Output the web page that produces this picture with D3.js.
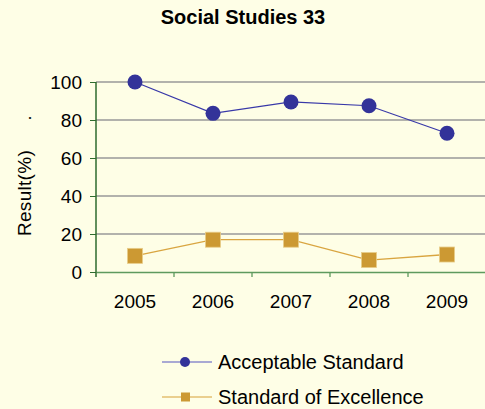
<!DOCTYPE html>
<html><head><meta charset="utf-8">
<script src="https://cdn.jsdelivr.net/npm/d3@7"></script>
<style>
html,body{margin:0;padding:0;background:#FEFEE6;}
svg{display:block;font-family:Arial,"Liberation Sans",sans-serif;}
</style></head><body>
<svg id="c" width="485" height="409"></svg>
<script>
const title = "Social Studies 33";
const years = ["2005","2006","2007","2008","2009"];
const acceptable = [100, 83.5, 89.5, 87.5, 73];
const excellence = [8.5, 17, 17, 6.3, 9.2];
const yTicks = [0,20,40,60,80,100];
const seriesNames = ["Acceptable Standard","Standard of Excellence"];

const svg = d3.select("#c");
svg.append("rect").attr("width",485).attr("height",409).attr("fill","#FEFEE6");

const x = d3.scaleBand().domain(years).range([96,486]);
const y = d3.scaleLinear().domain([0,100]).range([272,82]);

// gridlines
svg.append("g").selectAll("line").data(yTicks.filter(d=>d>0)).join("line")
  .attr("x1",96).attr("x2",486).attr("y1",d=>y(d)).attr("y2",d=>y(d))
  .attr("stroke","#999999").attr("stroke-width",1.3);

// x axis
const xa = svg.append("g").attr("transform","translate(0,272)")
  .call(d3.axisBottom(x).tickSize(0).tickPadding(23));
xa.select(".domain").attr("stroke","#5E9A5E").attr("stroke-width",1.3);
xa.selectAll("text").attr("font-size",19).attr("fill","#000").attr("font-family","Arial,'Liberation Sans',sans-serif");
// x ticks at band boundaries
svg.append("g").selectAll("line").data(years.slice(1).concat(["end"])).join("line")
  .attr("x1",(d,i)=>x(years[0]) + (i+1)*x.bandwidth()).attr("x2",(d,i)=>x(years[0]) + (i+1)*x.bandwidth())
  .attr("y1",272).attr("y2",277).attr("stroke","#5E9A5E").attr("stroke-width",1.3);

// y axis
const ya = svg.append("g").attr("transform","translate(96,0)")
  .call(d3.axisLeft(y).tickValues(yTicks).tickSize(6).tickPadding(8).tickSizeOuter(0));
ya.select(".domain").attr("stroke","#2E6B2E").attr("stroke-width",1.5).attr("d","M0,82V277");
ya.selectAll(".tick line").attr("stroke","#2E6B2E");
ya.selectAll("text").attr("font-size",19).attr("fill","#000").attr("font-family","Arial,'Liberation Sans',sans-serif");

// y title
svg.append("text").attr("transform","translate(31,193) rotate(-90)")
  .attr("text-anchor","middle").attr("font-size",19).attr("letter-spacing",0.3).text("Result(%)");
svg.append("text").attr("transform","translate(31,118) rotate(-90)")
  .attr("text-anchor","middle").attr("font-size",18).text(".");

// title
svg.append("text").attr("x",243).attr("y",24).attr("text-anchor","middle")
  .attr("font-size",20).attr("font-weight","bold").text(title);

const cx = d => x(d) + x.bandwidth()/2;
const line = d3.line().x((d,i)=>cx(years[i])).y(d=>y(d));

svg.append("path").datum(acceptable).attr("d",line).attr("fill","none")
  .attr("stroke","#3838A8").attr("stroke-width",1.2);
svg.append("path").datum(excellence).attr("d",line).attr("fill","none")
  .attr("stroke","#D9A540").attr("stroke-width",1.3);

svg.append("g").selectAll("circle").data(acceptable).join("circle")
  .attr("cx",(d,i)=>cx(years[i])).attr("cy",d=>y(d)).attr("r",7.5).attr("fill","#333399");
svg.append("g").selectAll("rect").data(excellence).join("rect")
  .attr("x",(d,i)=>cx(years[i])-7.5).attr("y",d=>y(d)-7.5).attr("width",15).attr("height",15)
  .attr("fill","#CC9933").attr("stroke","#E8CC88").attr("stroke-width",0.8);

// legend
const lg = svg.append("g");
const rows = [{n:seriesNames[0],y:362,c:"#333399",lc:"#8C8CCC",shape:"circle"},
              {n:seriesNames[1],y:397,c:"#CC9933",lc:"#E3BF70",shape:"rect"}];
rows.forEach(r=>{
  lg.append("line").attr("x1",162).attr("x2",212).attr("y1",r.y).attr("y2",r.y)
    .attr("stroke",r.lc).attr("stroke-width",1.5);
  if(r.shape==="circle") lg.append("circle").attr("cx",185).attr("cy",r.y).attr("r",5).attr("fill",r.c);
  else lg.append("rect").attr("x",181).attr("y",r.y-4.5).attr("width",9).attr("height",9).attr("fill",r.c);
  lg.append("text").attr("x",218).attr("y",r.y+7).attr("font-size",20).text(r.n);
});
</script>
</body></html>
